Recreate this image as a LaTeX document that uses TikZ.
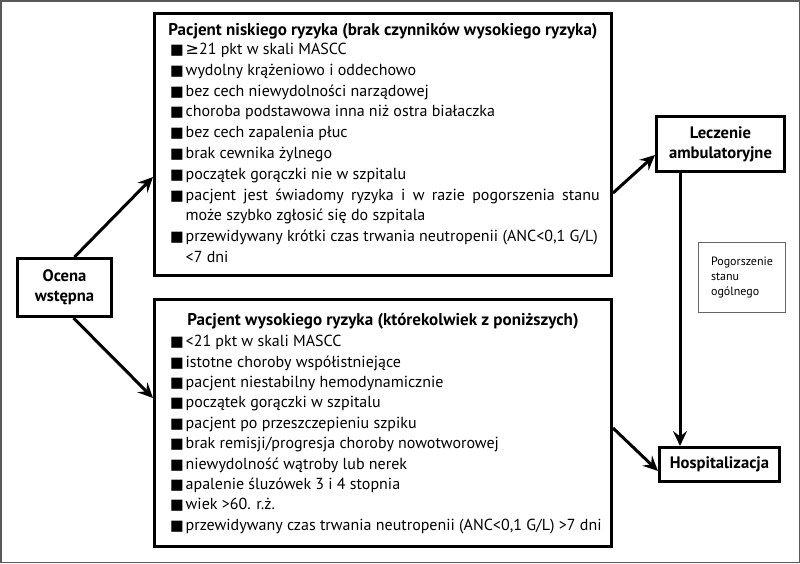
\documentclass[tikz,border=0pt]{standalone}
\usepackage{fontspec}
\setmainfont{PT Sans}
\newfontfamily\symfont{DejaVu Sans}
\usetikzlibrary{arrows.meta,positioning}
\newcommand{\kw}{\makebox[14.5pt][l]{\hspace{-1.2pt}\symfont\fontsize{14.5pt}{14.5pt}\selectfont ■}}
\newcommand{\wc}{\hspace*{14.5pt}}
\newcommand{\wieksze}{{\symfont ≥}}

\begin{document}
\begin{tikzpicture}[x=1pt,y=-1pt,
		ramka/.style={draw, line width=3pt, inner sep=0pt, align=center,
			font=\bfseries\fontsize{16.6pt}{20pt}\selectfont},
		duza/.style={draw, line width=3pt, inner sep=0pt, minimum width=457pt},
		tytul/.style={font=\bfseries\fontsize{17pt}{19pt}\selectfont, inner sep=0pt, anchor=base},
		lista/.style={align=left, inner sep=0pt, anchor=north west},
		strzalka/.style={-{Stealth[length=15pt,width=14pt,inset=5.5pt]}, line width=3pt}]
		\useasboundingbox (0,0) rectangle (800,563);

		% ramka zewnetrzna
		\draw[line width=1.5pt, black!65] (0.75,0.75) rectangle (799.25,562.25);

		% ocena wstepna
		\node[ramka, minimum width=94pt, minimum height=58pt] (ocena) at (64.5,287.5) {Ocena\\wstępna};

		% pacjent niskiego ryzyka
		\node[duza, minimum height=262pt] (niskie) at (383,144.5) {};
		\node[tytul] (niskieT) at ([yshift=-23.2pt]niskie.north) {Pacjent niskiego ryzyka (brak czynników wysokiego ryzyka)};
		\node[lista, font=\fontsize{16pt}{20.8pt}\selectfont] (niskieL) at (171,43) {%
			\kw\wieksze21 pkt w skali MASCC\\
			\kw wydolny krążeniowo i oddechowo\\
			\kw bez cech niewydolności narządowej\\
			\kw choroba podstawowa inna niż ostra białaczka\\
			\kw bez cech zapalenia płuc\\
			\kw brak cewnika żylnego\\
			\kw początek gorączki nie w szpitalu\\
			\kw\makebox[414pt][s]{pacjent jest świadomy ryzyka i w razie pogorszenia stanu}\\
			\wc może szybko zgłosić się do szpitala\\
			\kw przewidywany krótki czas trwania neutropenii (ANC<0,1 G/L)\\
			\wc <7 dni};

		% pacjent wysokiego ryzyka
		\node[duza, minimum height=247pt] (wysokie) at (383,423) {};
		\node[tytul] (wysokieT) at ([yshift=-27.2pt]wysokie.north) {Pacjent wysokiego ryzyka (którekolwiek z poniższych)};
		\node[lista, font=\fontsize{16pt}{20.4pt}\selectfont] (wysokieL) at (171,335) {%
			\kw <21 pkt w skali MASCC\\
			\kw istotne choroby współistniejące\\
			\kw pacjent niestabilny hemodynamicznie\\
			\kw początek gorączki w szpitalu\\
			\kw pacjent po przeszczepieniu szpiku\\
			\kw brak remisji/progresja choroby nowotworowej\\
			\kw niewydolność wątroby lub nerek\\
			\kw apalenie śluzówek 3 i 4 stopnia\\
			\kw wiek >60. r.ż.\\
			\kw przewidywany czas trwania neutropenii (ANC<0,1 G/L) >7 dni};

		% leczenie ambulatoryjne
		\node[ramka, minimum width=128pt, minimum height=55pt] (lecz) at (720.5,144) {Leczenie\\ambulatoryjne};

		% hospitalizacja
		\node[ramka, minimum width=120pt, minimum height=34pt] (hosp) at (719.5,464.5) {Hospitalizacja};

		% pogorszenie stanu
		\node[draw, line width=0.8pt, black!60, text=black, align=left, inner sep=0pt,
			minimum width=87pt, minimum height=70pt, font=\fontsize{12pt}{15pt}\selectfont]
			(pogorsz) at (742,277.5) {Pogorszenie\\stanu\\ogólnego};

		\coordinate (pion) at (680,0);

		\draw[strzalka] ([xshift=10pt]ocena.north) -- ([yshift=-32.5pt]niskie.west);
		\draw[strzalka] ([xshift=9pt]ocena.south) -- ([yshift=25pt]wysokie.west);

		\draw[strzalka] ([yshift=-48.5pt]niskie.east) -- ([yshift=-11pt]lecz.west);
		\draw[strzalka] ([yshift=-5pt]wysokie.east) -- ([yshift=-6.5pt]hosp.west);

		\draw[strzalka] (lecz.south -| pion) -- (hosp.north -| pion);

	\end{tikzpicture}
\end{document}
